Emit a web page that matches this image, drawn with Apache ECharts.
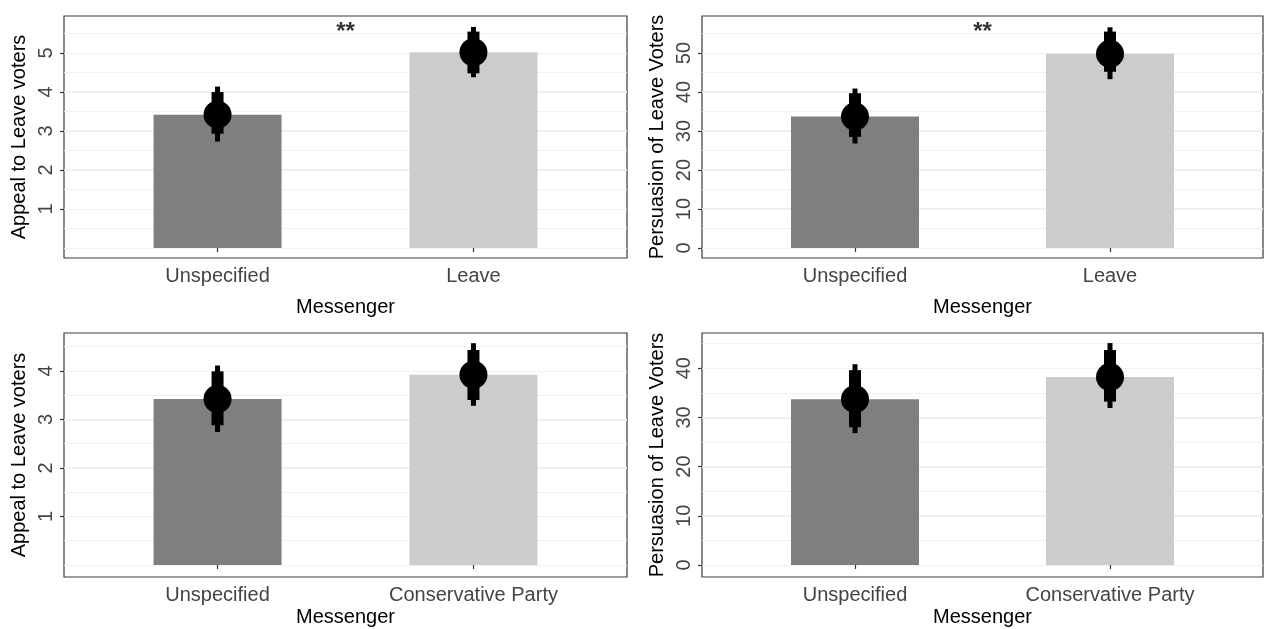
<!DOCTYPE html>
<html><head><meta charset="utf-8">
<script src="https://cdn.jsdelivr.net/npm/echarts@6/dist/echarts.min.js"></script>
<style>html,body{margin:0;padding:0;background:#fff}#c{width:1264px;height:629px}</style>
</head><body><div id="c"></div>
<script>
// ---------- data ----------
const messengersLeave = ['Unspecified', 'Leave'];
const messengersCons = ['Unspecified', 'Conservative Party'];
const yTitleAppeal = 'Appeal to Leave voters';
const yTitlePersuasion = 'Persuasion of Leave Voters';
const xTitle = 'Messenger';

const appealLeaveMean = [3.42, 5.02];
const appealLeaveLo95 = [2.73, 4.38];
const appealLeaveHi95 = [4.14, 5.67];
const appealLeaveLo90 = [2.93, 4.48];
const appealLeaveHi90 = [4.00, 5.55];

const persuasionLeaveMean = [33.7, 49.8];
const persuasionLeaveLo95 = [26.8, 43.3];
const persuasionLeaveHi95 = [40.9, 56.6];
const persuasionLeaveLo90 = [28.5, 45.2];
const persuasionLeaveHi90 = [39.7, 55.5];

const appealConsMean = [3.42, 3.92];
const appealConsLo95 = [2.74, 3.28];
const appealConsHi95 = [4.11, 4.57];
const appealConsLo90 = [2.88, 3.40];
const appealConsHi90 = [3.99, 4.43];

const persuasionConsMean = [33.7, 38.2];
const persuasionConsLo95 = [26.8, 31.9];
const persuasionConsHi95 = [40.8, 45.1];
const persuasionConsLo90 = [28.0, 33.2];
const persuasionConsHi90 = [39.6, 43.7];

const appealLeaveTicks = [1, 2, 3, 4, 5];
const persuasionLeaveTicks = [0, 10, 20, 30, 40, 50];
const appealConsTicks = [1, 2, 3, 4];
const persuasionConsTicks = [0, 10, 20, 30, 40];

const sigText = ['**', '**', '', ''];
const sigValue = [5.67, 56.7, null, null];

// ---------- layout / style ----------
const FONT = '"Liberation Sans", Arial, Helvetica, sans-serif';
const barColors = ['#7f7f7f', '#cccccc'];
const panels = [
  {cats: messengersLeave, mean: appealLeaveMean, lo95: appealLeaveLo95, hi95: appealLeaveHi95, lo90: appealLeaveLo90, hi90: appealLeaveHi90, ticks: appealLeaveTicks, yTitle: yTitleAppeal,
   left: 64, top: 16, width: 563, height: 242, yMin: -0.256, yMax: 5.95, major: 1, minor: 0.5, xNameGap: 39},
  {cats: messengersLeave, mean: persuasionLeaveMean, lo95: persuasionLeaveLo95, hi95: persuasionLeaveHi95, lo90: persuasionLeaveLo90, hi90: persuasionLeaveHi90, ticks: persuasionLeaveTicks, yTitle: yTitlePersuasion,
   left: 702, top: 16, width: 561, height: 242, yMin: -2.56, yMax: 59.5, major: 10, minor: 5, xNameGap: 39},
  {cats: messengersCons, mean: appealConsMean, lo95: appealConsLo95, hi95: appealConsHi95, lo90: appealConsLo90, hi90: appealConsHi90, ticks: appealConsTicks, yTitle: yTitleAppeal,
   left: 64, top: 333, width: 563, height: 244, yMin: -0.247, yMax: 4.78, major: 1, minor: 0.5, xNameGap: 30},
  {cats: messengersCons, mean: persuasionConsMean, lo95: persuasionConsLo95, hi95: persuasionConsHi95, lo90: persuasionConsLo90, hi90: persuasionConsHi90, ticks: persuasionConsTicks, yTitle: yTitlePersuasion,
   left: 702, top: 333, width: 561, height: 244, yMin: -2.44, yMax: 47.15, major: 10, minor: 5, xNameGap: 30}
];

const grid = [], xAxis = [], yAxis = [], series = [];

function errRender(width) {
  return function (params, api) {
    const x = api.value(0);
    const p1 = api.coord([x, api.value(2)]);
    const p2 = api.coord([x, api.value(1)]);
    return {type: 'rect', shape: {x: p1[0] - width / 2, y: p1[1], width: width, height: p2[1] - p1[1]},
            style: {fill: '#000'}};
  };
}

panels.forEach((p, i) => {
  grid.push({left: p.left, top: p.top, width: p.width, height: p.height, show: true,
             borderColor: '#3a3a3a', borderWidth: 1.2, backgroundColor: '#fff'});
  const cats = p.cats;
  xAxis.push({type: 'value', gridIndex: i, min: 0.4, max: 2.6, minInterval: 1, maxInterval: 1,
    name: xTitle, nameLocation: 'middle', nameGap: p.xNameGap,
    nameTextStyle: {fontFamily: FONT, fontSize: 20, color: '#000'},
    axisLine: {show: false},
    axisTick: {show: true, customValues: [1, 2], length: 4, lineStyle: {color: '#333', width: 1.2}},
    axisLabel: {customValues: [1, 2], formatter: v => cats[Math.round(v) - 1], fontFamily: FONT, fontSize: 20, color: '#444', margin: 8},
    splitLine: {show: true, showMinLine: false, showMaxLine: false, lineStyle: {color: '#e8e8e8', width: 1.5}}
  });
  yAxis.push({type: 'value', gridIndex: i, min: p.yMin, max: p.yMax, minInterval: p.major, maxInterval: p.major,
    name: p.yTitle, nameLocation: 'middle', nameGap: 35,
    nameTextStyle: {fontFamily: FONT, fontSize: 20, color: '#000'},
    axisLine: {show: false},
    axisTick: {show: true, customValues: p.ticks, length: 4, lineStyle: {color: '#333', width: 1.2}},
    axisLabel: {customValues: p.ticks, rotate: 90, fontFamily: FONT, fontSize: 20, color: '#444', margin: 8},
    splitLine: {show: true, showMinLine: false, showMaxLine: false, lineStyle: {color: '#e8e8e8', width: 1.5}}
  });
});
panels.forEach((p, i) => {
  yAxis.push({type: 'value', gridIndex: i, min: p.yMin, max: p.yMax, minInterval: p.minor, maxInterval: p.minor,
    position: 'left', axisLine: {show: false}, axisTick: {show: false}, axisLabel: {show: false},
    splitLine: {show: true, showMinLine: false, showMaxLine: false, lineStyle: {color: '#f1f1f1', width: 1}}
  });
});

panels.forEach((p, i) => {
  series.push({type: 'bar', xAxisIndex: i, yAxisIndex: i, barWidth: 128, z: 2,
    data: p.mean.map((v, k) => ({value: [k + 1, v], itemStyle: {color: barColors[k]}})),
    silent: true});
  series.push({type: 'custom', xAxisIndex: i, yAxisIndex: i, z: 3, renderItem: errRender(5),
    encode: {x: 0, y: [1, 2]},
    data: p.mean.map((v, k) => [k + 1, p.lo95[k], p.hi95[k]])});
  series.push({type: 'custom', xAxisIndex: i, yAxisIndex: i, z: 4, renderItem: errRender(12),
    encode: {x: 0, y: [1, 2]},
    data: p.mean.map((v, k) => [k + 1, p.lo90[k], p.hi90[k]])});
  series.push({type: 'scatter', xAxisIndex: i, yAxisIndex: i, z: 5, symbol: 'circle', symbolSize: 28,
    itemStyle: {color: '#000', opacity: 1},
    data: p.mean.map((v, k) => [k + 1, v])});
  if (sigText[i]) {
    series.push({type: 'scatter', xAxisIndex: i, yAxisIndex: i, z: 6, symbolSize: 0,
      data: [[1.5, sigValue[i]]],
      label: {show: true, position: 'inside', formatter: sigText[i], fontFamily: FONT, fontSize: 24, fontWeight: 'bold', color: '#000', offset: [0, 5]}});
  }
});

const chart = echarts.init(document.getElementById('c'), null, {renderer: 'canvas'});
chart.setOption({animation: false, backgroundColor: '#fff', grid, xAxis, yAxis, series});
</script>
</body></html>
